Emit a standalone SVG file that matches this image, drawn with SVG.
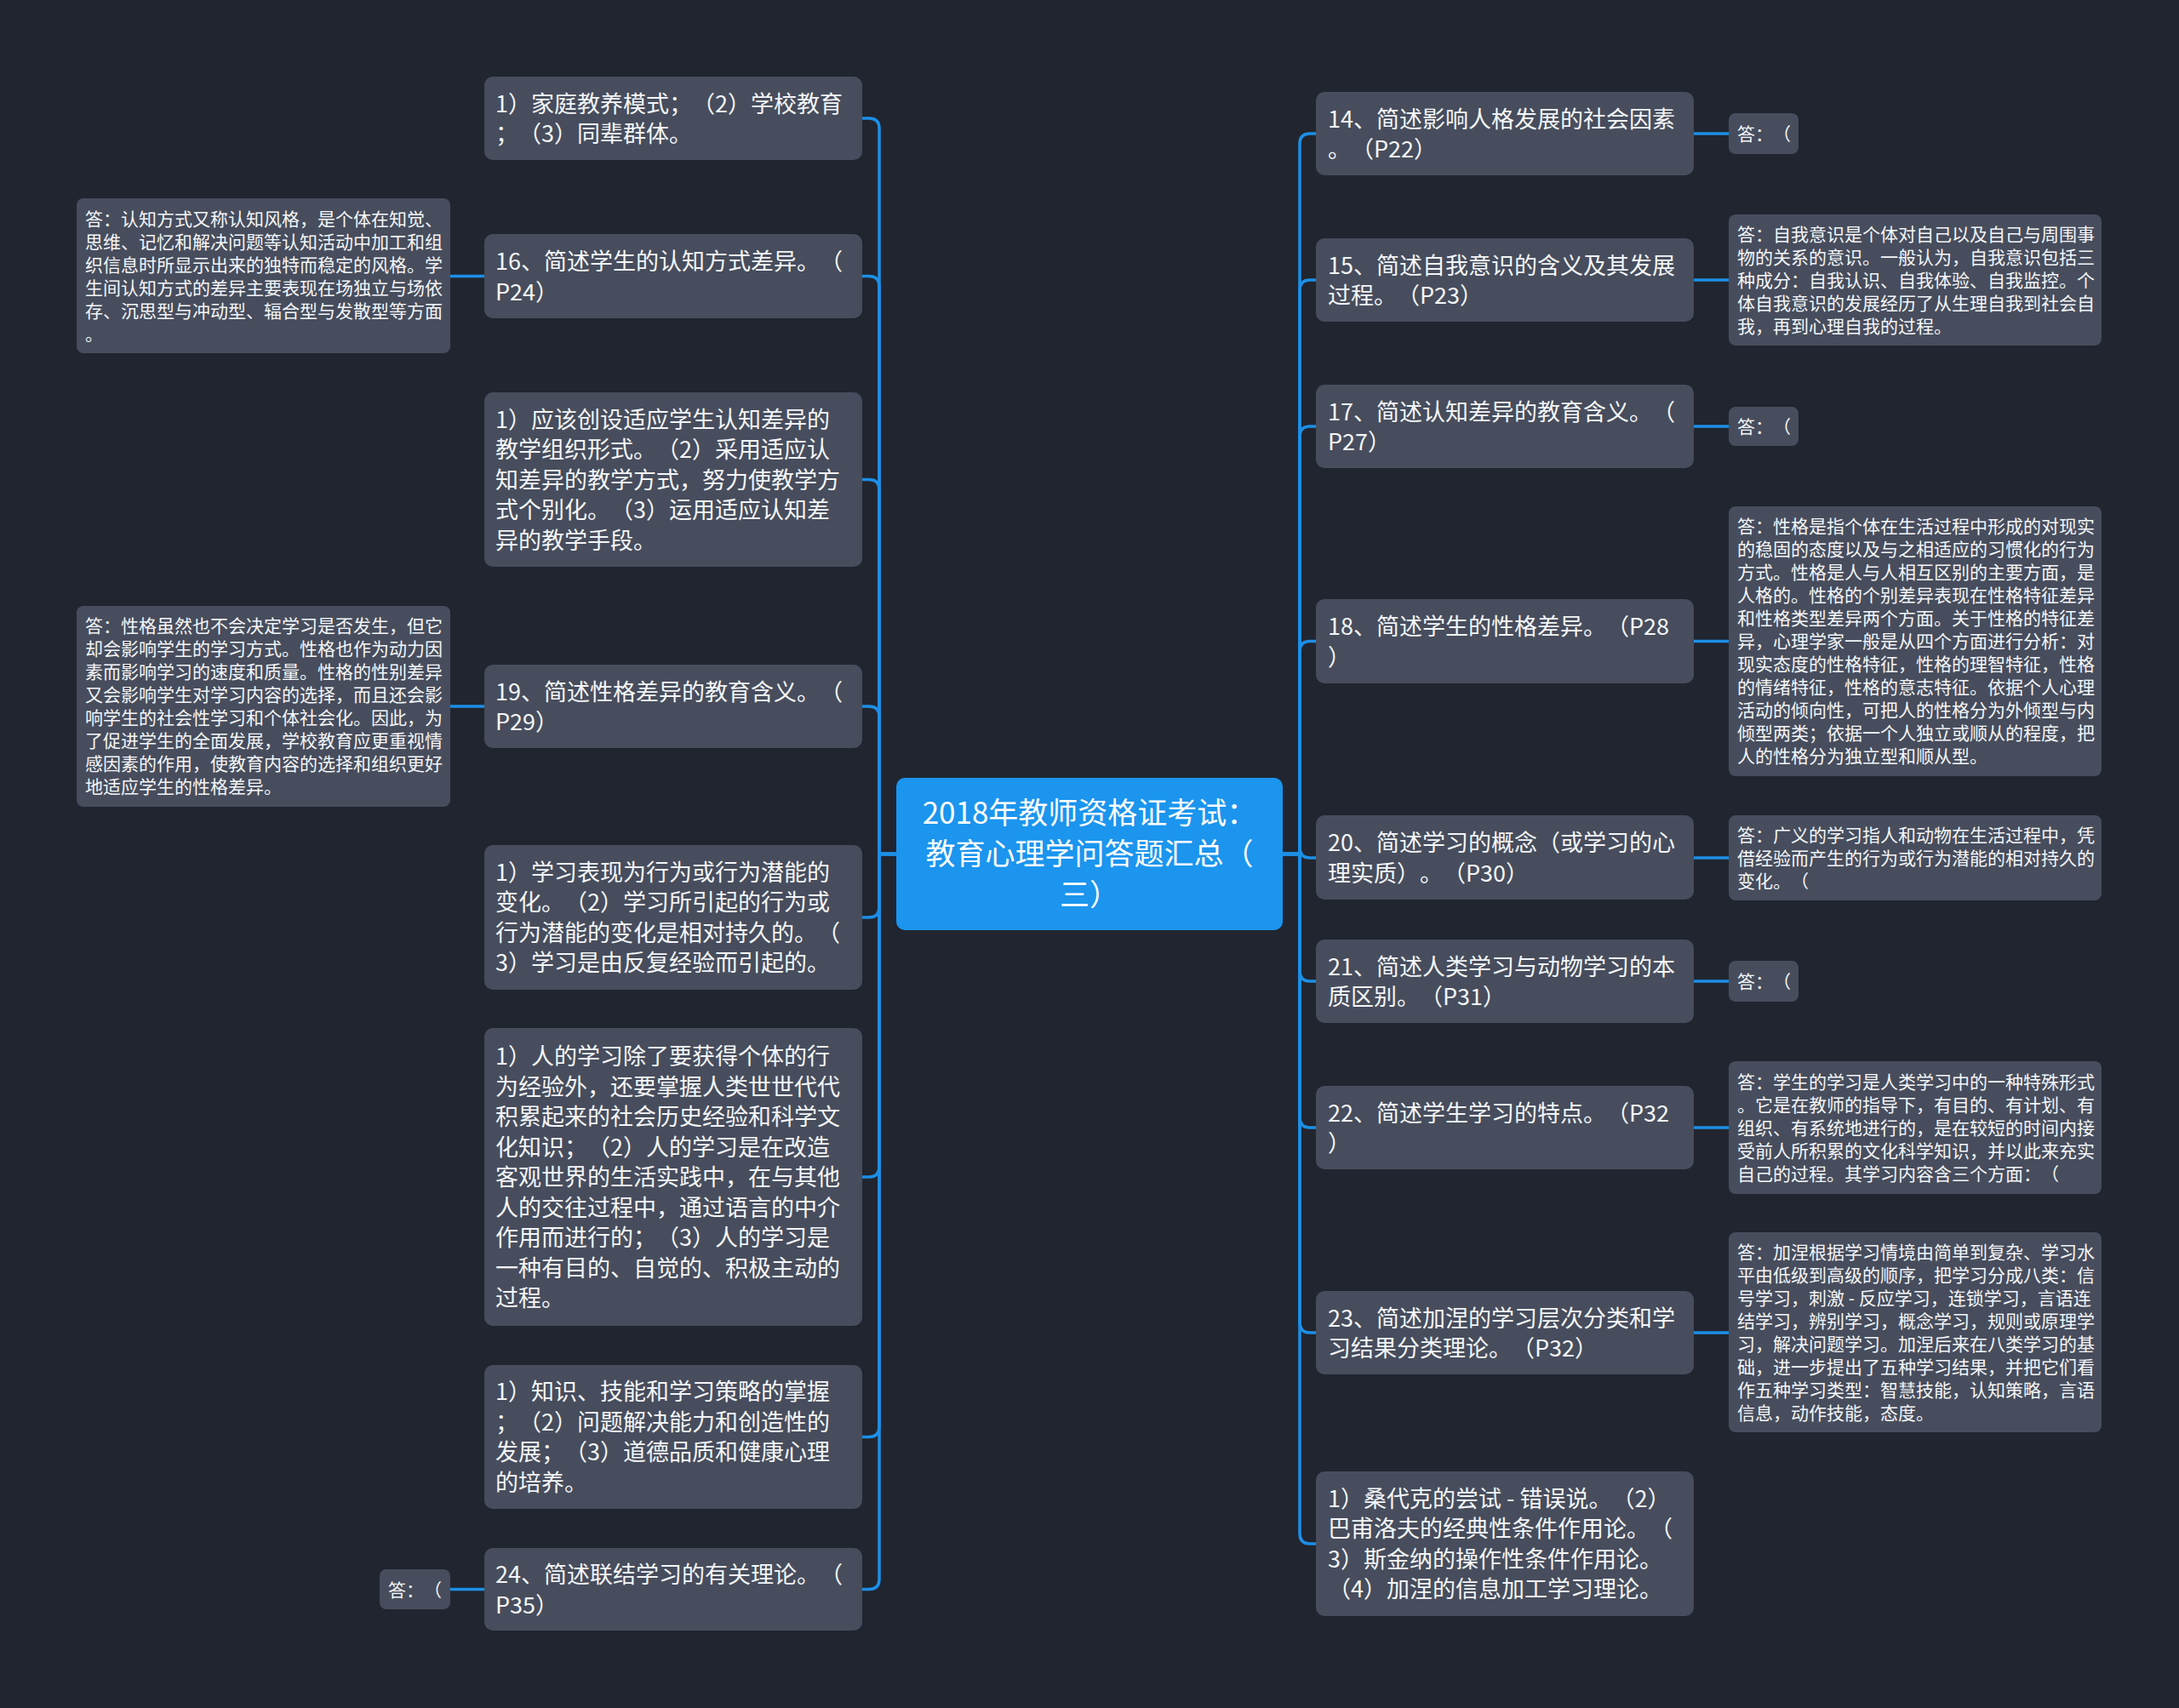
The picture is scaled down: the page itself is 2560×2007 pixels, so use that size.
<svg xmlns="http://www.w3.org/2000/svg" width="2560" height="2007" viewBox="0 0 2560 2007">
<defs>
<style>
.bg{fill:#212530}
.q{fill:#474d5d}
.a{fill:#474d5d}
.c{fill:#1b95ee}
text{text-spacing-trim:space-all;font-kerning:none}
.qt{font-family:"Noto Sans CJK SC","Noto Sans",sans-serif;font-size:27px;fill:#f4f6f8}
.at{font-family:"Noto Sans CJK SC","Noto Sans",sans-serif;font-size:21px;fill:#f4f6f8}
.ct{font-family:"Noto Sans CJK SC","Noto Sans",sans-serif;font-size:35px;fill:#ffffff;text-anchor:middle}
.conn path{fill:none;stroke:#1c8fe6;stroke-width:3.5}
</style>
</defs>
<rect class="bg" x="0" y="0" width="2560" height="2007"/>

<g class="conn" id="connectors">
<path d="M1053,1003.5 H1033 V151 Q1033,139 1021,139 H1013"/>
<path d="M1053,1003.5 H1033 V336.5 Q1033,324.5 1021,324.5 H1013"/>
<path d="M1053,1003.5 H1033 V575.5 Q1033,563.5 1021,563.5 H1013"/>
<path d="M1053,1003.5 H1033 V842 Q1033,830 1021,830 H1013"/>
<path d="M1053,1003.5 H1033 V1066 Q1033,1078 1021,1078 H1013"/>
<path d="M1053,1003.5 H1033 V1371 Q1033,1383 1021,1383 H1013"/>
<path d="M1053,1003.5 H1033 V1676.5 Q1033,1688.5 1021,1688.5 H1013"/>
<path d="M1053,1003.5 H1033 V1855.5 Q1033,1867.5 1021,1867.5 H1013"/>
<path d="M569,324.5 H529"/>
<path d="M569,830 H529"/>
<path d="M569,1867.5 H529"/>
<path d="M1507,1003.5 H1527 V169 Q1527,157 1539,157 H1546"/>
<path d="M1507,1003.5 H1527 V341 Q1527,329 1539,329 H1546"/>
<path d="M1507,1003.5 H1527 V513 Q1527,501 1539,501 H1546"/>
<path d="M1507,1003.5 H1527 V765.5 Q1527,753.5 1539,753.5 H1546"/>
<path d="M1507,1003.5 H1527 V996 Q1527,1008 1539,1008 H1546"/>
<path d="M1507,1003.5 H1527 V1141 Q1527,1153 1539,1153 H1546"/>
<path d="M1507,1003.5 H1527 V1313 Q1527,1325 1539,1325 H1546"/>
<path d="M1507,1003.5 H1527 V1554 Q1527,1566 1539,1566 H1546"/>
<path d="M1507,1003.5 H1527 V1802 Q1527,1814 1539,1814 H1546"/>
<path d="M1990,157 H2031"/>
<path d="M1990,329 H2031"/>
<path d="M1990,501 H2031"/>
<path d="M1990,753.5 H2031"/>
<path d="M1990,1008 H2031"/>
<path d="M1990,1153 H2031"/>
<path d="M1990,1325 H2031"/>
<path d="M1990,1566 H2031"/>
</g>

<g id="root">
<rect class="c" x="1053" y="914" width="454" height="179" rx="10"/>
<text class="ct"><tspan x="1280" y="968">2018年教师资格证考试：</tspan><tspan x="1280" y="1016">教育心理学问答题汇总（</tspan><tspan x="1280" y="1064">三）</tspan></text>
</g>

<g id="l1">
<rect class="q" x="569" y="90" width="444" height="98" rx="10"/>
<text class="qt"><tspan x="582" y="131.5">1）家庭教养模式；（2）学校教育</tspan><tspan x="582" y="167">；（3）同辈群体。</tspan></text>
</g>
<g id="l2">
<rect class="q" x="569" y="275" width="444" height="99" rx="10"/>
<text class="qt"><tspan x="582" y="317">16、简述学生的认知方式差异。（</tspan><tspan x="582" y="352.5">P24）</tspan></text>
</g>
<g id="a16">
<rect class="a" x="90" y="233" width="439" height="182" rx="8"/>
<text class="at"><tspan x="100" y="265">答：认知方式又称认知风格，是个体在知觉、</tspan><tspan x="100" y="292">思维、记忆和解决问题等认知活动中加工和组</tspan><tspan x="100" y="319">织信息时所显示出来的独特而稳定的风格。学</tspan><tspan x="100" y="346">生间认知方式的差异主要表现在场独立与场依</tspan><tspan x="100" y="373">存、沉思型与冲动型、辐合型与发散型等方面</tspan><tspan x="100" y="400">。</tspan></text>
</g>
<g id="l3">
<rect class="q" x="569" y="461" width="444" height="205" rx="10"/>
<text class="qt"><tspan x="582" y="502.5">1）应该创设适应学生认知差异的</tspan><tspan x="582" y="538">教学组织形式。（2）采用适应认</tspan><tspan x="582" y="573.5">知差异的教学方式，努力使教学方</tspan><tspan x="582" y="609">式个别化。（3）运用适应认知差</tspan><tspan x="582" y="644.5">异的教学手段。</tspan></text>
</g>
<g id="l4">
<rect class="q" x="569" y="781" width="444" height="98" rx="10"/>
<text class="qt"><tspan x="582" y="822.5">19、简述性格差异的教育含义。（</tspan><tspan x="582" y="858">P29）</tspan></text>
</g>
<g id="a19">
<rect class="a" x="90" y="712" width="439" height="236" rx="8"/>
<text class="at"><tspan x="100" y="743">答：性格虽然也不会决定学习是否发生，但它</tspan><tspan x="100" y="770">却会影响学生的学习方式。性格也作为动力因</tspan><tspan x="100" y="797">素而影响学习的速度和质量。性格的性别差异</tspan><tspan x="100" y="824">又会影响学生对学习内容的选择，而且还会影</tspan><tspan x="100" y="851">响学生的社会性学习和个体社会化。因此，为</tspan><tspan x="100" y="878">了促进学生的全面发展，学校教育应更重视情</tspan><tspan x="100" y="905">感因素的作用，使教育内容的选择和组织更好</tspan><tspan x="100" y="932">地适应学生的性格差异。</tspan></text>
</g>
<g id="l5">
<rect class="q" x="569" y="993" width="444" height="170" rx="10"/>
<text class="qt"><tspan x="582" y="1034.5">1）学习表现为行为或行为潜能的</tspan><tspan x="582" y="1070">变化。（2）学习所引起的行为或</tspan><tspan x="582" y="1105.5">行为潜能的变化是相对持久的。（</tspan><tspan x="582" y="1141">3）学习是由反复经验而引起的。</tspan></text>
</g>
<g id="l6">
<rect class="q" x="569" y="1208" width="444" height="350" rx="10"/>
<text class="qt"><tspan x="582" y="1251">1）人的学习除了要获得个体的行</tspan><tspan x="582" y="1286.5">为经验外，还要掌握人类世世代代</tspan><tspan x="582" y="1322">积累起来的社会历史经验和科学文</tspan><tspan x="582" y="1357.5">化知识；（2）人的学习是在改造</tspan><tspan x="582" y="1393">客观世界的生活实践中，在与其他</tspan><tspan x="582" y="1428.5">人的交往过程中，通过语言的中介</tspan><tspan x="582" y="1464">作用而进行的；（3）人的学习是</tspan><tspan x="582" y="1499.5">一种有目的、自觉的、积极主动的</tspan><tspan x="582" y="1535">过程。</tspan></text>
</g>
<g id="l7">
<rect class="q" x="569" y="1604" width="444" height="169" rx="10"/>
<text class="qt"><tspan x="582" y="1645">1）知识、技能和学习策略的掌握</tspan><tspan x="582" y="1680.5">；（2）问题解决能力和创造性的</tspan><tspan x="582" y="1716">发展；（3）道德品质和健康心理</tspan><tspan x="582" y="1751.5">的培养。</tspan></text>
</g>
<g id="l8">
<rect class="q" x="569" y="1819" width="444" height="97" rx="10"/>
<text class="qt"><tspan x="582" y="1860">24、简述联结学习的有关理论。（</tspan><tspan x="582" y="1895.5">P35）</tspan></text>
</g>
<g id="a24">
<rect class="a" x="446" y="1844" width="83" height="47" rx="8"/>
<text class="at"><tspan x="456" y="1875.5">答：（</tspan></text>
</g>

<g id="r14">
<rect class="q" x="1546" y="108" width="444" height="98" rx="10"/>
<text class="qt"><tspan x="1560" y="149.5">14、简述影响人格发展的社会因素</tspan><tspan x="1560" y="185">。（P22）</tspan></text>
</g>
<g id="ans14">
<rect class="a" x="2031" y="133" width="82" height="48" rx="8"/>
<text class="at"><tspan x="2041" y="165">答：（</tspan></text>
</g>
<g id="r15">
<rect class="q" x="1546" y="280" width="444" height="98" rx="10"/>
<text class="qt"><tspan x="1560" y="321.5">15、简述自我意识的含义及其发展</tspan><tspan x="1560" y="357">过程。（P23）</tspan></text>
</g>
<g id="a15">
<rect class="a" x="2031" y="252" width="438" height="154" rx="8"/>
<text class="at"><tspan x="2041" y="283">答：自我意识是个体对自己以及自己与周围事</tspan><tspan x="2041" y="310">物的关系的意识。一般认为，自我意识包括三</tspan><tspan x="2041" y="337">种成分：自我认识、自我体验、自我监控。个</tspan><tspan x="2041" y="364">体自我意识的发展经历了从生理自我到社会自</tspan><tspan x="2041" y="391">我，再到心理自我的过程。</tspan></text>
</g>
<g id="r17">
<rect class="q" x="1546" y="452" width="444" height="98" rx="10"/>
<text class="qt"><tspan x="1560" y="493.5">17、简述认知差异的教育含义。（</tspan><tspan x="1560" y="529">P27）</tspan></text>
</g>
<g id="ans17">
<rect class="a" x="2031" y="478" width="82" height="46" rx="8"/>
<text class="at"><tspan x="2041" y="509">答：（</tspan></text>
</g>
<g id="r18">
<rect class="q" x="1546" y="704" width="444" height="99" rx="10"/>
<text class="qt"><tspan x="1560" y="746">18、简述学生的性格差异。（P28</tspan><tspan x="1560" y="781.5">）</tspan></text>
</g>
<g id="a18">
<rect class="a" x="2031" y="595" width="438" height="317" rx="8"/>
<text class="at"><tspan x="2041" y="626">答：性格是指个体在生活过程中形成的对现实</tspan><tspan x="2041" y="653">的稳固的态度以及与之相适应的习惯化的行为</tspan><tspan x="2041" y="680">方式。性格是人与人相互区别的主要方面，是</tspan><tspan x="2041" y="707">人格的。性格的个别差异表现在性格特征差异</tspan><tspan x="2041" y="734">和性格类型差异两个方面。关于性格的特征差</tspan><tspan x="2041" y="761">异，心理学家一般是从四个方面进行分析：对</tspan><tspan x="2041" y="788">现实态度的性格特征，性格的理智特征，性格</tspan><tspan x="2041" y="815">的情绪特征，性格的意志特征。依据个人心理</tspan><tspan x="2041" y="842">活动的倾向性，可把人的性格分为外倾型与内</tspan><tspan x="2041" y="869">倾型两类；依据一个人独立或顺从的程度，把</tspan><tspan x="2041" y="896">人的性格分为独立型和顺从型。</tspan></text>
</g>
<g id="r20">
<rect class="q" x="1546" y="958" width="444" height="99" rx="10"/>
<text class="qt"><tspan x="1560" y="1000">20、简述学习的概念（或学习的心</tspan><tspan x="1560" y="1035.5">理实质）。（P30）</tspan></text>
</g>
<g id="a20">
<rect class="a" x="2031" y="958" width="438" height="100" rx="8"/>
<text class="at"><tspan x="2041" y="989">答：广义的学习指人和动物在生活过程中，凭</tspan><tspan x="2041" y="1016">借经验而产生的行为或行为潜能的相对持久的</tspan><tspan x="2041" y="1043">变化。（</tspan></text>
</g>
<g id="r21">
<rect class="q" x="1546" y="1104" width="444" height="98" rx="10"/>
<text class="qt"><tspan x="1560" y="1145.5">21、简述人类学习与动物学习的本</tspan><tspan x="1560" y="1181">质区别。（P31）</tspan></text>
</g>
<g id="ans21">
<rect class="a" x="2031" y="1129" width="82" height="48" rx="8"/>
<text class="at"><tspan x="2041" y="1161">答：（</tspan></text>
</g>
<g id="r22">
<rect class="q" x="1546" y="1276" width="444" height="98" rx="10"/>
<text class="qt"><tspan x="1560" y="1317.5">22、简述学生学习的特点。（P32</tspan><tspan x="1560" y="1353">）</tspan></text>
</g>
<g id="a22">
<rect class="a" x="2031" y="1247" width="438" height="156" rx="8"/>
<text class="at"><tspan x="2041" y="1279">答：学生的学习是人类学习中的一种特殊形式</tspan><tspan x="2041" y="1306">。它是在教师的指导下，有目的、有计划、有</tspan><tspan x="2041" y="1333">组织、有系统地进行的，是在较短的时间内接</tspan><tspan x="2041" y="1360">受前人所积累的文化科学知识，并以此来充实</tspan><tspan x="2041" y="1387">自己的过程。其学习内容含三个方面：（</tspan></text>
</g>
<g id="r23">
<rect class="q" x="1546" y="1517" width="444" height="98" rx="10"/>
<text class="qt"><tspan x="1560" y="1558.5">23、简述加涅的学习层次分类和学</tspan><tspan x="1560" y="1594">习结果分类理论。（P32）</tspan></text>
</g>
<g id="a23">
<rect class="a" x="2031" y="1448" width="438" height="235" rx="8"/>
<text class="at"><tspan x="2041" y="1479">答：加涅根据学习情境由简单到复杂、学习水</tspan><tspan x="2041" y="1506">平由低级到高级的顺序，把学习分成八类：信</tspan><tspan x="2041" y="1533">号学习，刺激 - 反应学习，连锁学习，言语连</tspan><tspan x="2041" y="1560">结学习，辨别学习，概念学习，规则或原理学</tspan><tspan x="2041" y="1587">习，解决问题学习。加涅后来在八类学习的基</tspan><tspan x="2041" y="1614">础，进一步提出了五种学习结果，并把它们看</tspan><tspan x="2041" y="1641">作五种学习类型：智慧技能，认知策略，言语</tspan><tspan x="2041" y="1668">信息，动作技能，态度。</tspan></text>
</g>
<g id="r24">
<rect class="q" x="1546" y="1729" width="444" height="170" rx="10"/>
<text class="qt"><tspan x="1560" y="1770.5">1）桑代克的尝试 - 错误说。（2）</tspan><tspan x="1560" y="1806">巴甫洛夫的经典性条件作用论。（</tspan><tspan x="1560" y="1841.5">3）斯金纳的操作性条件作用论。</tspan><tspan x="1560" y="1877">（4）加涅的信息加工学习理论。</tspan></text>
</g>
</svg>
